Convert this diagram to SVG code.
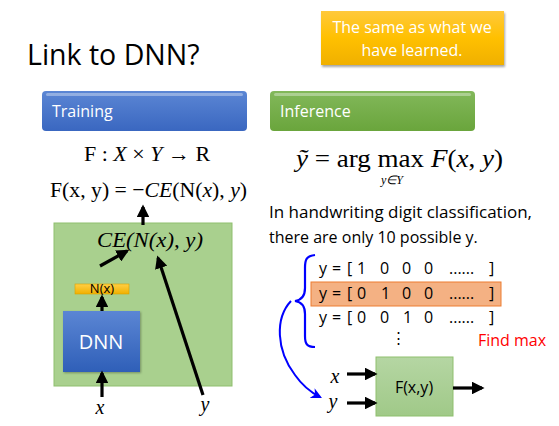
<svg xmlns="http://www.w3.org/2000/svg" width="559" height="426" viewBox="0 0 559 426">
<defs>
<style>
.sans{font-family:"Open Sans","Liberation Sans",sans-serif;}
.serif{font-family:"Liberation Serif","Times New Roman",serif;}
.it{font-style:italic;}
.conn{stroke:#000;stroke-width:3.2;fill:none;}
.wt{fill:#fff;}
</style>
<linearGradient id="gYellow" x1="0" y1="0" x2="0" y2="1">
<stop offset="0" stop-color="#ffc93c"/><stop offset="0.5" stop-color="#ffc000"/><stop offset="1" stop-color="#f0b000"/>
</linearGradient>
<linearGradient id="gBlue" x1="0" y1="0" x2="0" y2="1">
<stop offset="0" stop-color="#5b86d4"/><stop offset="1" stop-color="#3a67c0"/>
</linearGradient>
<linearGradient id="gGreen" x1="0" y1="0" x2="0" y2="1">
<stop offset="0" stop-color="#82b85a"/><stop offset="1" stop-color="#6aa53c"/>
</linearGradient>
<linearGradient id="gDnn" x1="0" y1="0" x2="0" y2="1">
<stop offset="0" stop-color="#5b86d4"/><stop offset="1" stop-color="#2f5fb8"/>
</linearGradient>
<linearGradient id="gNx" x1="0" y1="0" x2="0" y2="1">
<stop offset="0" stop-color="#ffcf45"/><stop offset="1" stop-color="#f0b000"/>
</linearGradient>
<linearGradient id="gBox" x1="0" y1="0" x2="0" y2="1">
<stop offset="0" stop-color="#b5d6a3"/><stop offset="1" stop-color="#a0c988"/>
</linearGradient>
<marker id="ah" viewBox="0 0 10 10" refX="8" refY="5" markerWidth="4" markerHeight="4" orient="auto" markerUnits="strokeWidth">
<path d="M0,0 L10,5 L0,10 z" fill="#000"/>
</marker>
<marker id="ahb" viewBox="0 0 10 10" refX="8" refY="5" markerWidth="5.5" markerHeight="5.5" orient="auto" markerUnits="strokeWidth">
<path d="M0,0 L10,5 L0,10 L3,5 z" fill="#0000ff"/>
</marker>
</defs>
<rect width="559" height="426" fill="#fff"/>

<g id="title"><text x="27" y="65" class="sans" font-size="28.5" fill="#000">Link to DNN?</text></g>

<g id="note">
<rect x="321" y="11" width="183" height="54" fill="url(#gYellow)" filter="drop-shadow(1px 2px 1px rgba(0,0,0,0.35))"/>
<text x="412" y="33" class="sans wt" font-size="16" text-anchor="middle">The same as what we</text>
<text x="412" y="56" class="sans wt" font-size="16" text-anchor="middle">have learned.</text>
</g>

<g id="training-header">
<rect x="42" y="91" width="205" height="40" rx="4" fill="url(#gBlue)"/>
<rect x="46" y="93" width="197" height="3" rx="1.5" fill="#fff" opacity="0.35"/>
<text x="52" y="117" class="sans wt" font-size="16">Training</text>
</g>

<g id="inference-header">
<rect x="270" y="91" width="205" height="40" rx="4" fill="url(#gGreen)"/>
<rect x="274" y="93" width="197" height="3" rx="1.5" fill="#fff" opacity="0.35"/>
<text x="280" y="117" class="sans wt" font-size="16">Inference</text>
</g>

<g id="eq-map"><text x="147" y="161" class="serif" font-size="22" text-anchor="middle">F : <tspan class="it">X</tspan> × <tspan class="it">Y</tspan> → R</text></g>
<g id="eq-F"><text x="50" y="197" class="serif" font-size="22" textLength="197" lengthAdjust="spacingAndGlyphs">F(x, y) = −<tspan class="it">CE</tspan>(N(<tspan class="it">x</tspan>), <tspan class="it">y</tspan>)</text></g>

<g id="train-box"><rect x="54" y="223" width="178" height="163" fill="#a9d08e" stroke="#8fbf6e" stroke-width="1"/></g>
<g id="ce"><text x="97" y="247" class="serif it" font-size="22" textLength="106" lengthAdjust="spacingAndGlyphs">CE(N(x), y)</text></g>
<g id="nx">
<rect x="75" y="284" width="54" height="10" fill="url(#gNx)" stroke="#d9a000" stroke-width="0.6"/>
<text x="102" y="293" class="sans" font-size="13" text-anchor="middle">N(x)</text>
</g>
<g id="dnn">
<rect x="63" y="311" width="77" height="61" fill="url(#gDnn)" filter="drop-shadow(1px 1px 1px rgba(0,0,0,0.3))"/>
<text x="101" y="349" class="sans wt" font-size="20" text-anchor="middle">DNN</text>
</g>
<g id="lbl-x1"><text x="100" y="414" class="serif it" font-size="20" text-anchor="middle">x</text></g>
<g id="lbl-y1"><text x="205" y="411" class="serif it" font-size="20" text-anchor="middle">y</text></g>

<g id="eq-argmax">
<text x="296" y="167" class="serif" font-size="25" textLength="207" lengthAdjust="spacingAndGlyphs"><tspan class="it">ỹ</tspan> = arg max <tspan class="it">F</tspan>(<tspan class="it">x</tspan>, <tspan class="it">y</tspan>)</text>
<text x="392" y="184" class="serif it" font-size="12" text-anchor="middle">y∈Y</text>
</g>

<g id="desc">
<text x="269" y="218" class="sans" font-size="16" textLength="263" lengthAdjust="spacingAndGlyphs">In handwriting digit classification,</text>
<text x="269" y="243" class="sans" font-size="16">there are only 10 possible y.</text>
</g>

<g id="rows">
<rect x="311" y="282" width="190" height="24" fill="#f4b183" stroke="#ed7d31" stroke-width="1"/>
<text y="274" class="sans" font-size="16"><tspan x="319">y</tspan><tspan x="332">=</tspan><tspan x="347">[</tspan><tspan x="357">1</tspan><tspan x="380">0</tspan><tspan x="402">0</tspan><tspan x="424">0</tspan><tspan x="449">......</tspan><tspan x="489">]</tspan></text>
<text y="299" class="sans" font-size="16"><tspan x="319">y</tspan><tspan x="332">=</tspan><tspan x="347">[</tspan><tspan x="357">0</tspan><tspan x="381">1</tspan><tspan x="402">0</tspan><tspan x="424">0</tspan><tspan x="449">......</tspan><tspan x="489">]</tspan></text>
<text y="323" class="sans" font-size="16"><tspan x="319">y</tspan><tspan x="332">=</tspan><tspan x="347">[</tspan><tspan x="357">0</tspan><tspan x="380">0</tspan><tspan x="403">1</tspan><tspan x="424">0</tspan><tspan x="449">......</tspan><tspan x="489">]</tspan></text>
<text x="398" y="343" class="sans" font-size="15" text-anchor="middle">⋮</text>
<text x="478" y="346" class="sans" font-size="16" fill="#ff0000">Find max</text>
</g>

<g id="fxy">
<rect x="376" y="357" width="77" height="59" fill="url(#gBox)" stroke="#8fbf6e" stroke-width="1"/>
<text x="414" y="393" class="sans" font-size="16" text-anchor="middle">F(x,y)</text>
</g>
<g id="lbl-x2"><text x="335" y="383" class="serif it" font-size="20" text-anchor="middle">x</text></g>
<g id="lbl-y2"><text x="333" y="408" class="serif it" font-size="20" text-anchor="middle">y</text></g>

<g id="connectors">
<line class="conn" x1="143" y1="225" x2="143" y2="207" marker-end="url(#ah)"/>
<line class="conn" x1="100" y1="266" x2="127" y2="251" marker-end="url(#ah)"/>
<line class="conn" x1="102" y1="311" x2="102" y2="297" marker-end="url(#ah)"/>
<line class="conn" x1="102" y1="397" x2="102" y2="373" marker-end="url(#ah)"/>
<line class="conn" x1="203" y1="395" x2="158" y2="258" marker-end="url(#ah)"/>
<line class="conn" x1="347" y1="374" x2="375" y2="374" marker-end="url(#ah)"/>
<line class="conn" x1="347" y1="403" x2="375" y2="403" marker-end="url(#ah)"/>
<line class="conn" x1="453" y1="388" x2="482" y2="388" marker-end="url(#ah)"/>
<path d="M315,255 C306,256 305,260 305,268 L305,288 C305,296 302,300 295,301 C302,302 305,306 305,314 L305,336 C305,344 307,347 315,347" fill="none" stroke="#0000ff" stroke-width="2.2"/>
<path d="M291,301 C275,318 276,350 295,375 C302,385 310,392 320,397" fill="none" stroke="#0000ff" stroke-width="2" marker-end="url(#ahb)"/>
</g>
</svg>
